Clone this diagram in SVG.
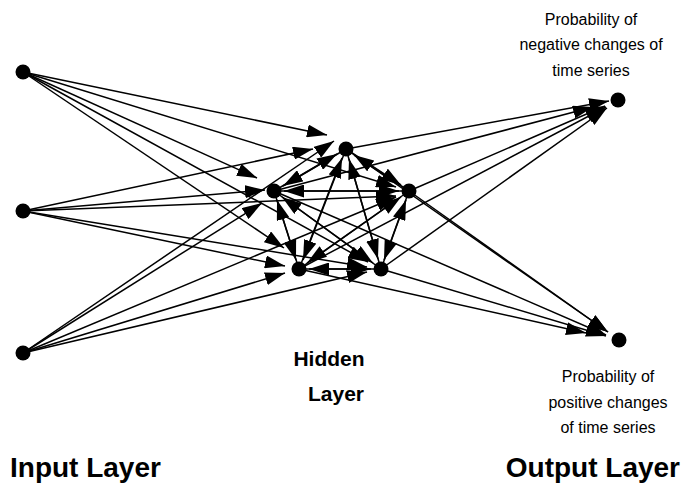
<svg xmlns="http://www.w3.org/2000/svg" width="689" height="485" viewBox="0 0 689 485">
  <style>
    .edge { stroke: #000; stroke-width: 1.5; fill: none; marker-end: url(#arrow); }
    .node { fill: #000; }
    .cap { font-family: "Liberation Sans", Arial, sans-serif; font-size: 16px; fill: #000; text-anchor: middle; }
    .title { font-family: "Liberation Sans", Arial, sans-serif; font-size: 21px; font-weight: bold; fill: #000; }
    .big { font-size: 28px; }
  </style>
  <defs>
    <marker id="arrow" markerUnits="userSpaceOnUse" markerWidth="20" markerHeight="13" refX="20" refY="6.5" orient="auto">
      <path d="M0,0 L20,6.5 L0,13 z" fill="#000"/>
    </marker>
  </defs>
  <rect width="689" height="485" fill="#fff"/>

  <g id="connectors">
    <!-- input layer to hidden layer -->
    <line class="edge" x1="23" y1="72" x2="327" y2="135"/>
    <line class="edge" x1="23" y1="72" x2="257" y2="178"/>
    <line class="edge" x1="23" y1="72" x2="396" y2="187"/>
    <line class="edge" x1="23" y1="72" x2="284" y2="248"/>
    <line class="edge" x1="23" y1="72" x2="368" y2="262"/>
    <line class="edge" x1="23" y1="211" x2="313" y2="149"/>
    <line class="edge" x1="23" y1="211" x2="265" y2="190"/>
    <line class="edge" x1="23" y1="211" x2="396" y2="196"/>
    <line class="edge" x1="23" y1="211" x2="285" y2="266"/>
    <line class="edge" x1="23" y1="211" x2="367" y2="267"/>
    <line class="edge" x1="23" y1="353" x2="334" y2="141"/>
    <line class="edge" x1="23" y1="353" x2="262" y2="203"/>
    <line class="edge" x1="23" y1="353" x2="396" y2="197"/>
    <line class="edge" x1="23" y1="353" x2="285" y2="273"/>
    <line class="edge" x1="23" y1="353" x2="367" y2="272"/>
    <!-- recurrent links inside the hidden layer -->
    <line class="edge" x1="346" y1="149" x2="283" y2="186"/>
    <line class="edge" x1="274" y1="191" x2="337" y2="154"/>
    <line class="edge" x1="346" y1="149" x2="401" y2="185"/>
    <line class="edge" x1="409" y1="191" x2="354" y2="155"/>
    <line class="edge" x1="346" y1="149" x2="303" y2="260"/>
    <line class="edge" x1="299" y1="269" x2="342" y2="158"/>
    <line class="edge" x1="346" y1="149" x2="378" y2="259"/>
    <line class="edge" x1="381" y1="269" x2="349" y2="159"/>
    <line class="edge" x1="274" y1="191" x2="399" y2="191"/>
    <line class="edge" x1="409" y1="191" x2="284" y2="191"/>
    <line class="edge" x1="274" y1="191" x2="296" y2="260"/>
    <line class="edge" x1="299" y1="269" x2="277" y2="200"/>
    <line class="edge" x1="274" y1="191" x2="373" y2="263"/>
    <line class="edge" x1="381" y1="269" x2="282" y2="197"/>
    <line class="edge" x1="409" y1="191" x2="307" y2="263"/>
    <line class="edge" x1="299" y1="269" x2="401" y2="197"/>
    <line class="edge" x1="409" y1="191" x2="384" y2="260"/>
    <line class="edge" x1="381" y1="269" x2="406" y2="200"/>
    <line class="edge" x1="299" y1="269" x2="371" y2="269"/>
    <line class="edge" x1="381" y1="269" x2="309" y2="269"/>
    <!-- hidden layer to output layer -->
    <line class="edge" x1="346" y1="149" x2="609" y2="101"/>
    <line class="edge" x1="274" y1="191" x2="593" y2="107"/>
    <line class="edge" x1="409" y1="191" x2="605" y2="106"/>
    <line class="edge" x1="299" y1="269" x2="606" y2="107"/>
    <line class="edge" x1="381" y1="269" x2="607" y2="108"/>
    <line class="edge" x1="346" y1="149" x2="608" y2="332"/>
    <line class="edge" x1="274" y1="191" x2="606" y2="335"/>
    <line class="edge" x1="409" y1="191" x2="608" y2="332"/>
    <line class="edge" x1="299" y1="269" x2="586" y2="333"/>
    <line class="edge" x1="381" y1="269" x2="606" y2="336"/>
  </g>

  <!-- input layer -->
  <g id="in1"><circle class="node" cx="23" cy="72" r="7.5"/></g>
  <g id="in2"><circle class="node" cx="23" cy="211" r="7.5"/></g>
  <g id="in3"><circle class="node" cx="23" cy="353" r="7.5"/></g>
  <!-- hidden layer -->
  <g id="h1"><circle class="node" cx="346" cy="149" r="7.5"/></g>
  <g id="h2"><circle class="node" cx="274" cy="191" r="7.5"/></g>
  <g id="h3"><circle class="node" cx="409" cy="191" r="7.5"/></g>
  <g id="h4"><circle class="node" cx="299" cy="269" r="7.5"/></g>
  <g id="h5"><circle class="node" cx="381" cy="269" r="7.5"/></g>
  <!-- output layer -->
  <g id="out1"><circle class="node" cx="618" cy="100" r="7.5"/></g>
  <g id="out2"><circle class="node" cx="619" cy="340" r="7.5"/></g>

  <g id="labels">
    <text class="cap" x="591" y="25">Probability of</text>
    <text class="cap" x="591" y="50">negative changes of</text>
    <text class="cap" x="591" y="76">time series</text>
    <text class="cap" x="608" y="382">Probability of</text>
    <text class="cap" x="608" y="408">positive changes</text>
    <text class="cap" x="608" y="433">of time series</text>
    <text class="title" x="329" y="366" text-anchor="middle">Hidden</text>
    <text class="title" x="336" y="401" text-anchor="middle">Layer</text>
    <text class="title big" x="10" y="477">Input Layer</text>
    <text class="title big" x="680" y="477" text-anchor="end">Output Layer</text>
  </g>
</svg>
